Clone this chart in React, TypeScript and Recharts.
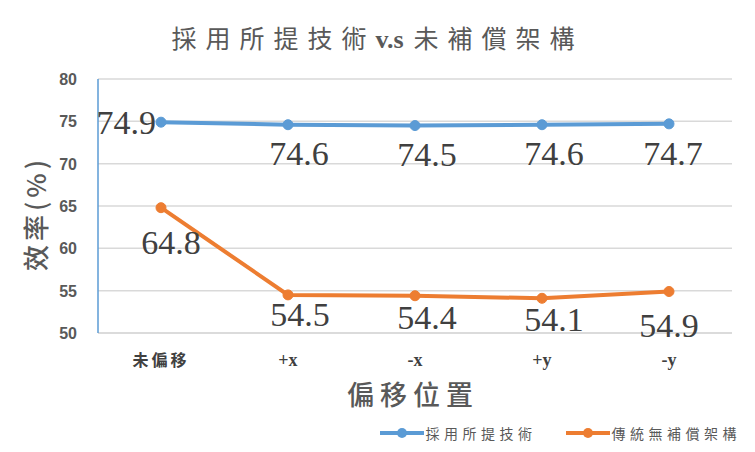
import React from "react";
import { LineChart, Line, XAxis, YAxis, CartesianGrid, LabelList } from "recharts";

const categories = ["未偏移", "+x", "-x", "+y", "-y"];
const proposed = [74.9, 74.6, 74.5, 74.6, 74.7];
const conventional = [64.8, 54.5, 54.4, 54.1, 54.9];
const yTicks = [50, 55, 60, 65, 70, 75, 80];

const seriesNames = ["採用所提技術", "傳統無補償架構"];
const colors = ["#5b9bd5", "#ed7d31"];

// label nudges (px)
const proposedLabelDx = [0, 11, 12, 12, 4];
const proposedLabelDy = [0, 40, 40, 40, 41];
const conventionalLabelDx = [10, 12, 12, 12, 0];
const conventionalLabelDy = [46, 31, 33, 33, 45];

const data = categories.map((name, i) => ({
  name,
  proposed: proposed[i],
  conventional: conventional[i],
}));

const cjk = '"Noto Sans CJK TC", "Noto Sans CJK SC", sans-serif';
const serif = '"Liberation Serif", "Noto Sans CJK TC", serif';
const labelStyle = { fontFamily: serif, fontSize: 34, fill: "#404040" };

function ProposedLabel(props: any) {
  const { x, y, value, index } = props;
  if (index === 0) {
    return (
      <text x={x - 5} y={y + 12} textAnchor="end" {...labelStyle}>
        {value}
      </text>
    );
  }
  return (
    <text x={x + proposedLabelDx[index]} y={y + proposedLabelDy[index]} textAnchor="middle" {...labelStyle}>
      {value}
    </text>
  );
}

function ConventionalLabel(props: any) {
  const { x, y, value, index } = props;
  return (
    <text x={x + conventionalLabelDx[index]} y={y + conventionalLabelDy[index]} textAnchor="middle" {...labelStyle}>
      {value}
    </text>
  );
}

function XTick(props: any) {
  const { x, y, payload } = props;
  const isCjk = /[\u4e00-\u9fff]/.test(payload.value);
  return (
    <text
      x={x}
      y={y + 33}
      textAnchor="middle"
      fontFamily={serif}
      fontWeight="bold"
      fontSize={isCjk ? 16 : 18}
      letterSpacing={isCjk ? 3 : 0}
      fill="#404040"
    >
      {payload.value}
    </text>
  );
}

function YTick(props: any) {
  const { x, y, payload } = props;
  return (
    <text
      x={x}
      y={y + 6}
      textAnchor="end"
      fontFamily='"Liberation Sans", sans-serif'
      fontWeight="bold"
      fontSize={16}
      fill="#595959"
    >
      {payload.value}
    </text>
  );
}

function LegendItem({ name, color }: { name: string; color: string }) {
  return (
    <div style={{ display: "flex", alignItems: "center", marginLeft: 28 }}>
      <svg width={46} height={12}>
        <line x1={1} y1={6} x2={45} y2={6} stroke={color} strokeWidth={4} />
        <circle cx={23} cy={6} r={5} fill={color} />
      </svg>
      <span style={{ fontFamily: cjk, fontSize: 14, letterSpacing: 4.5, color: "#595959", marginLeft: 1 }}>
        {name}
      </span>
    </div>
  );
}

export default function App() {
  return (
    <div style={{ position: "relative", width: 755, height: 452, background: "#fff", overflow: "hidden" }}>
      <style>{"body{margin:0}"}</style>
      <div
        style={{
          position: "absolute",
          top: 22,
          left: 0,
          width: 755,
          textAlign: "center",
          fontFamily: cjk,
          fontSize: 25,
          letterSpacing: 9,
          color: "#595959",
          lineHeight: "30px",
        }}
      >
        採用所提技術
        <span style={{ fontFamily: serif, fontWeight: "bold", fontSize: 26, letterSpacing: 0, marginRight: 10 }}>v.s</span>
        未補償架構
      </div>
      <LineChart width={755} height={452} data={data} margin={{ top: 79, right: 23, bottom: 89, left: 58 }}>
        <CartesianGrid vertical={false} stroke="#d9d9d9" strokeWidth={1.5} />
        <XAxis
          dataKey="name"
          height={30}
          padding={{ left: 63, right: 63 }}
          axisLine={{ stroke: "#d9d9d9", strokeWidth: 1.5 }}
          tickLine={false}
          tickSize={0}
          tickMargin={0}
          tick={<XTick />}
          interval={0}
        />
        <XAxis
          xAxisId="top"
          orientation="top"
          dataKey="name"
          height={0}
          padding={{ left: 63, right: 63 }}
          axisLine={{ stroke: colors[0], strokeWidth: 1.5 }}
          tickLine={false}
          tick={false}
        />
        <YAxis
          width={40}
          domain={[50, 80]}
          ticks={yTicks}
          axisLine={{ stroke: colors[0], strokeWidth: 1.5 }}
          tickLine={false}
          tickSize={0}
          tickMargin={21}
          tick={<YTick />}
          interval={0}
        />
        <YAxis
          yAxisId="right"
          orientation="right"
          width={0}
          domain={[50, 80]}
          ticks={yTicks}
          axisLine={{ stroke: colors[0], strokeWidth: 1.5 }}
          tickLine={false}
          tick={false}
        />
        <Line
          dataKey="proposed"
          name={seriesNames[0]}
          stroke={colors[0]}
          strokeWidth={4}
          dot={{ r: 5, fill: colors[0], stroke: colors[0], strokeWidth: 1 }}
          isAnimationActive={false}
        >
          <LabelList dataKey="proposed" content={<ProposedLabel />} />
        </Line>
        <Line
          dataKey="conventional"
          name={seriesNames[1]}
          stroke={colors[1]}
          strokeWidth={4}
          dot={{ r: 5, fill: colors[1], stroke: colors[1], strokeWidth: 1 }}
          isAnimationActive={false}
        >
          <LabelList dataKey="conventional" content={<ConventionalLabel />} />
        </Line>
      </LineChart>
      <div
        style={{
          position: "absolute",
          left: 4,
          top: 355,
          width: 50,
          height: 0,
        }}
      >
        <div
          style={{
            position: "absolute",
            left: -80,
            top: -160,
            width: 220,
            textAlign: "center",
            transform: "rotate(-90deg)",
            fontFamily: cjk,
            fontSize: 26,
            letterSpacing: 4,
            color: "#595959",
            fontWeight: 500,
          }}
        >
          效率(%)
        </div>
      </div>
      <div
        style={{
          position: "absolute",
          top: 374,
          left: 0,
          width: 826,
          textAlign: "center",
          fontFamily: cjk,
          fontSize: 27,
          letterSpacing: 6,
          color: "#595959",
          fontWeight: 500,
        }}
      >
        偏移位置
      </div>
      <div style={{ position: "absolute", top: 423, right: 14, display: "flex" }}>
        {seriesNames.map((n, i) => (
          <LegendItem key={n} name={n} color={colors[i]} />
        ))}
      </div>
    </div>
  );
}
